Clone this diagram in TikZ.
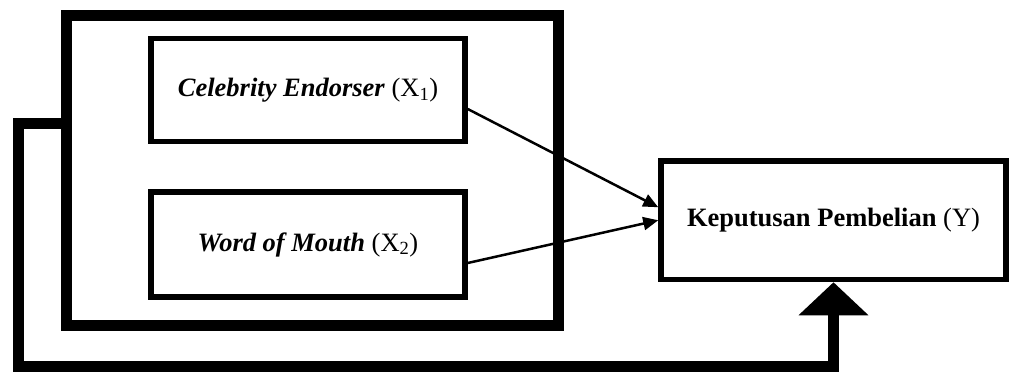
\documentclass[tikz,border=0pt]{standalone}
\usepackage{fontspec}
\setmainfont{Liberation Serif}
\usetikzlibrary{arrows.meta}

\tikzset{
  frame/.style={draw, line width=11pt, inner sep=0pt, minimum width=491.5pt, minimum height=309.5pt},
  varbox/.style={draw, line width=5.5pt, inner sep=0pt, align=center,
    font=\fontsize{26.5pt}{30pt}\selectfont},
  link/.style={line width=2.5pt, -{Triangle[length=15pt,width=13pt]}},
  feedback/.style={line width=11pt, line join=miter,
    -{Triangle[length=33pt,width=68pt]}},
}

\begin{document}
\begin{tikzpicture}[x=1pt, y=-1pt]
  \useasboundingbox (0,0) rectangle (1010,372);

  % group frame around the independent variables
  \node[frame] (grp) at (312.25,170.25) {};

  % variables
  \node[varbox, minimum width=314pt, minimum height=103pt] (x1) at (308,90)
    {\textbf{\textit{Celebrity Endorser}} (X\textsubscript{1})};
  \node[varbox, minimum width=314pt, minimum height=105pt] (x2) at (308,244.5)
    {\textbf{\textit{Word of Mouth}} (X\textsubscript{2})};
  \node[varbox, minimum width=345pt, minimum height=118.5pt] (y) at (833.5,220.25)
    {\textbf{Keputusan Pembelian} (Y)};

  % partial effects
  \draw[link] ([yshift=-19pt]x1.east) -- ([yshift=13pt]y.west);
  \draw[link] ([yshift=-18.5pt]x2.east) -- (y.west);

  % simultaneous effect
  \coordinate (loop) at (18.5,366.5);
  \draw[feedback] ([yshift=47.25pt]grp.west) -| (loop) -| (y.south);
\end{tikzpicture}
\end{document}
